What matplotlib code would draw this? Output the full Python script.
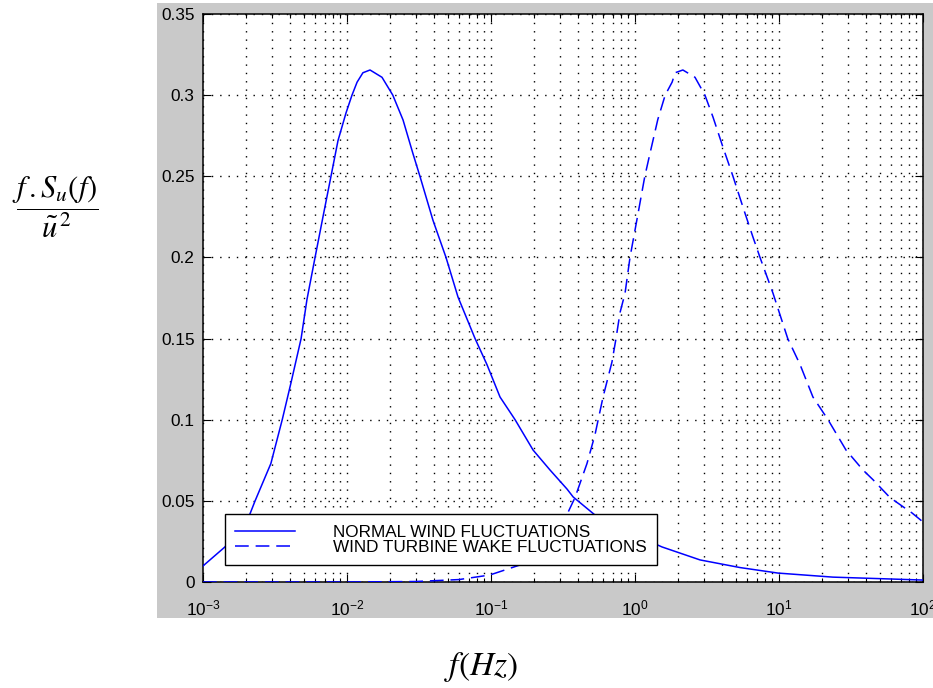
import matplotlib
matplotlib.use('Agg')
from matplotlib import pyplot as plt
from matplotlib.patches import Rectangle
from matplotlib.ticker import LogLocator, NullFormatter

plt.rcParams['font.family'] = ['Liberation Sans', 'DejaVu Sans']
plt.rcParams['mathtext.fontset'] = 'stix'

# normalised spectra f.Su(f)/u^2
freq_normal = [0.001, 0.00142, 0.00212, 0.0023, 0.00296, 0.00355, 0.00408, 0.0048, 0.00527,
               0.0060, 0.00681, 0.00774, 0.00866, 0.00984, 0.01083, 0.01175, 0.0129, 0.01445,
               0.0175, 0.0208, 0.0245, 0.0287, 0.0321, 0.0395, 0.0487, 0.059, 0.0775, 0.0937,
               0.1155, 0.147, 0.196, 0.257, 0.337, 0.372, 0.527, 0.75, 1.0, 1.54, 2.83, 5.36,
               9.84, 23.7, 100.0]
spec_normal = [0.0099, 0.0216, 0.042, 0.05, 0.073, 0.1, 0.1226, 0.15, 0.174,
               0.2, 0.225, 0.25, 0.272, 0.289, 0.300, 0.308, 0.3138, 0.3155,
               0.311, 0.300, 0.2847, 0.264, 0.25, 0.223, 0.2, 0.1756, 0.15, 0.134,
               0.114, 0.1, 0.0813, 0.069, 0.0573, 0.0524, 0.0413, 0.034, 0.029, 0.0216, 0.0136, 0.0089,
               0.0055, 0.003, 0.0012]

freq_wake = [0.001, 0.01, 0.03, 0.06, 0.098, 0.159, 0.22, 0.28, 0.343, 0.383, 0.464, 0.527,
             0.6, 0.692, 0.738, 0.787, 0.853, 0.923, 1.03, 1.17, 1.27, 1.44, 1.62, 1.81, 1.9,
             2.15, 2.61, 3.06, 3.48, 4.08, 4.79, 5.62, 6.59, 7.38, 9.08, 11.5, 14.0, 17.2,
             21.9, 29.2, 38.3, 45.0, 59.0, 84.0, 100.0]
spec_wake = [0.0, 0.0, 0.0003, 0.0015, 0.0043, 0.0105, 0.02, 0.031, 0.043, 0.052, 0.073, 0.0906,
             0.114, 0.1356, 0.15, 0.166, 0.178, 0.2, 0.223, 0.25, 0.264, 0.285, 0.3, 0.308, 0.3138,
             0.3155, 0.311, 0.3, 0.2865, 0.268, 0.25, 0.231, 0.2126, 0.2, 0.178, 0.15, 0.134, 0.114,
             0.1, 0.0813, 0.069, 0.063, 0.052, 0.0425, 0.037]

legend_labels = ['NORMAL WIND FLUCTUATIONS', 'WIND TURBINE WAKE FLUCTUATIONS']
y_ticks = [0, 0.05, 0.1, 0.15, 0.2, 0.25, 0.3, 0.35]
y_tick_labels = ['0', '0.05', '0.1', '0.15', '0.2', '0.25', '0.3', '0.35']

fig = plt.figure(figsize=(9.33, 6.88), dpi=100)
# grey panel behind the axes
fig.patches.append(Rectangle((157 / 933, 70 / 688), 1, 615 / 688, transform=fig.transFigure,
                             facecolor='#c9c9c9', edgecolor='none', zorder=-1))

ax = fig.add_axes([203 / 933, 106 / 688, 720 / 933, 568 / 688])
ax.set_facecolor('white')

blue = '#0000ff'
ax.plot(freq_normal, spec_normal, color=blue, lw=1.1, zorder=3, label=legend_labels[0])
ax.plot(freq_wake, spec_wake, color=blue, lw=1.1, ls=(0, (9, 4.5)), zorder=3, label=legend_labels[1])

ax.set_xscale('log')
ax.set_xlim(1e-3, 1e2)
ax.set_ylim(0, 0.35)
ax.set_yticks(y_ticks)
ax.set_yticklabels(y_tick_labels)
ax.xaxis.set_major_locator(LogLocator(base=10, numticks=10))
ax.xaxis.set_minor_locator(LogLocator(base=10, subs=range(2, 10), numticks=20))
ax.xaxis.set_minor_formatter(NullFormatter())

dots = (0, (1, 5))
ax.grid(True, which='major', axis='both', color='k', ls=dots, lw=1.0)
ax.grid(True, which='minor', axis='x', color='k', ls=dots, lw=1.0)

ax.tick_params(which='both', direction='in', top=True, right=True, colors='k', labelsize=12.4)
ax.tick_params(which='major', length=6, width=0.8)
ax.tick_params(which='minor', length=3, width=0.8)
ax.tick_params(axis='x', pad=12)
ax.tick_params(axis='y', pad=6)
for s in ax.spines.values():
    s.set_linewidth(1.1)
    s.set_color('k')

leg = ax.legend(loc='lower left', bbox_to_anchor=(22 / 720, 17 / 568), borderaxespad=0,
                fancybox=False, framealpha=1, edgecolor='k', fontsize=12.35,
                handlelength=3.5, handletextpad=2.2, labelspacing=0.0, borderpad=0.6)
leg.get_frame().set_linewidth(1.0)
leg.set_zorder(5)

fig.text(55 / 933, 1 - 207 / 688, r'$\dfrac{f\,.S_u\left(f\right)}{\tilde{u}^{\,2}}$',
         ha='center', va='center', fontsize=22)
fig.text(481 / 933, 1 - 667 / 688, r'$f\left(Hz\right)$', ha='center', va='center', fontsize=24)

fig.savefig('out.png', dpi=100)
